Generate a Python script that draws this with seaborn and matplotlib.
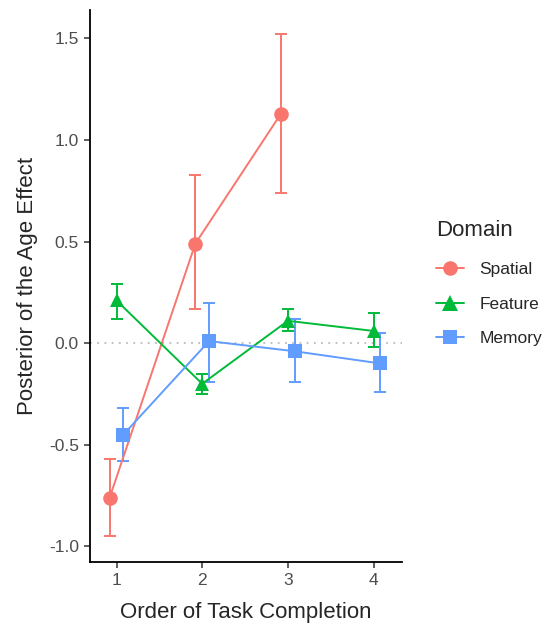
import matplotlib
matplotlib.use("Agg")
import matplotlib.pyplot as plt
import seaborn as sns
import pandas as pd

# Data
domains = ["Spatial", "Feature", "Memory"]
spatial_order = [1, 2, 3]
spatial_est = [-0.76, 0.49, 1.13]
spatial_lo = [-0.95, 0.17, 0.74]
spatial_hi = [-0.57, 0.83, 1.52]

feature_order = [1, 2, 3, 4]
feature_est = [0.21, -0.20, 0.11, 0.06]
feature_lo = [0.12, -0.25, 0.06, -0.02]
feature_hi = [0.29, -0.15, 0.17, 0.15]

memory_order = [1, 2, 3, 4]
memory_est = [-0.45, 0.01, -0.04, -0.10]
memory_lo = [-0.58, -0.19, -0.19, -0.24]
memory_hi = [-0.32, 0.20, 0.12, 0.05]

x_ticks = [1, 2, 3, 4]
y_ticks = [-1.0, -0.5, 0.0, 0.5, 1.0, 1.5]

rows = []
for dom, order, est, lo, hi in [
    ("Spatial", spatial_order, spatial_est, spatial_lo, spatial_hi),
    ("Feature", feature_order, feature_est, feature_lo, feature_hi),
    ("Memory", memory_order, memory_est, memory_lo, memory_hi),
]:
    for o, e, l, h in zip(order, est, lo, hi):
        rows.append({"Domain": dom, "order": o, "est": e, "lo": l, "hi": h})
df = pd.DataFrame(rows)

# position dodge like ggplot
dodge = {"Spatial": -0.08, "Feature": 0.0, "Memory": 0.08}
df["xpos"] = df["order"] + df["Domain"].map(dodge)

palette = {"Spatial": "#F8766D", "Feature": "#00BA38", "Memory": "#619CFF"}
markers = {"Spatial": "o", "Feature": "^", "Memory": "s"}
msize = {"Spatial": 10.5, "Feature": 11, "Memory": 9.5}

sns.set_style("ticks")
plt.rcParams["font.family"] = ["Liberation Sans", "DejaVu Sans"]

fig = plt.figure(figsize=(5.52, 6.26), dpi=100)
ax = fig.add_axes([0.163, 0.103, 0.565, 0.881])

ax.axhline(0, color="#BBBBBB", linestyle=(0, (1, 3)), linewidth=1.3, zorder=1)

for dom in domains:
    d = df[df["Domain"] == dom]
    ax.errorbar(d["xpos"], d["est"],
                yerr=[d["est"] - d["lo"], d["hi"] - d["est"]],
                fmt="none", ecolor=palette[dom], elinewidth=1.4,
                capsize=4.5, capthick=1.4, zorder=2)

sns.lineplot(data=df, x="xpos", y="est", hue="Domain", style="Domain",
             hue_order=domains, style_order=domains, palette=palette,
             markers=markers, dashes=False, linewidth=1.4, markersize=10.5,
             markeredgewidth=0, sort=True, estimator=None, ax=ax, zorder=3)

# adjust marker sizes per domain
for line in ax.get_lines():
    lab = line.get_label()
    if lab in msize:
        line.set_markersize(msize[lab])

ax.set_xlim(0.69, 4.33)
ax.set_ylim(-1.075, 1.64)
ax.set_xticks(x_ticks)
ax.set_xticklabels([str(t) for t in x_ticks])
ax.set_yticks(y_ticks)
ax.set_yticklabels([f"{t:.1f}" for t in y_ticks])
ax.tick_params(axis="both", labelsize=12.5, labelcolor="#4D4D4D",
               color="#333333", length=4, width=1.1, pad=4)
for side in ["top", "right"]:
    ax.spines[side].set_visible(False)
for side in ["left", "bottom"]:
    ax.spines[side].set_linewidth(1.3)
    ax.spines[side].set_color("black")

ax.set_xlabel("Order of Task Completion", fontsize=16, labelpad=10)
ax.set_ylabel("Posterior of the Age Effect", fontsize=16, labelpad=8)

handles, labels = ax.get_legend_handles_labels()
for h, l in zip(handles, labels):
    if l in msize:
        h.set_markersize(msize[l])
leg = ax.legend(handles, labels, title="Domain", loc="upper left",
                bbox_to_anchor=(0.79, 0.646), bbox_transform=fig.transFigure,
                frameon=False, fontsize=12.5, title_fontsize=16,
                handlelength=1.6, handletextpad=0.9, labelspacing=1.12,
                borderpad=0, borderaxespad=0, alignment="left")
leg.get_title().set_position((0, 2))

fig.savefig("out.png", dpi=100)
